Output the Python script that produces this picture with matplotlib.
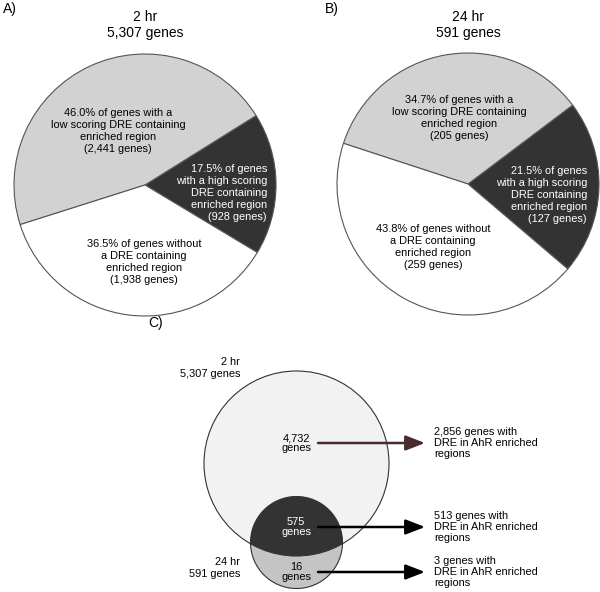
import matplotlib
matplotlib.use("Agg")
import matplotlib.pyplot as plt
from matplotlib.patches import Circle

plt.rcParams["font.family"] = ["Liberation Sans", "DejaVu Sans"]

# pie data: high scoring DRE, low scoring DRE, no DRE
pie_a_pct = [17.5, 46.0, 36.5]
pie_a_genes = ["928", "2,441", "1,938"]
pie_b_pct = [21.5, 34.7, 43.8]
pie_b_genes = ["127", "205", "259"]
pie_titles = ["2 hr\n5,307 genes", "24 hr\n591 genes"]
pie_colors = ["#333333", "#d2d2d2", "#ffffff"]

# venn data
venn_only_2hr = "4,732"
venn_both = "575"
venn_only_24hr = "16"
venn_dre = ["2,856", "513", "3"]
venn_sets = ["2 hr\n5,307 genes", "24 hr\n591 genes"]

H = 592


def Y(y):
    # pixel row -> data y (y axis goes up)
    return H - y


fig = plt.figure(figsize=(6, 5.92), dpi=100)
ax = fig.add_axes([0, 0, 1, 1])

fs = 7.9
edge = "#555555"

# ---- pies ----
pies = [
    (pie_a_pct, pie_a_genes, (145, 185), -31.0, pie_titles[0], "A)", 3),
    (pie_b_pct, pie_b_genes, (468, 184), -40.4, pie_titles[1], "B)", 325),
]
for i, (pct, genes, (cx, cy), start, title, tag, tagx) in enumerate(pies):
    ax.pie(pct, colors=pie_colors, startangle=start, counterclock=True,
           center=(cx, Y(cy)), radius=131,
           wedgeprops=dict(edgecolor=edge, linewidth=0.8))
    ax.text(cx, Y(25), title, ha="center", va="center", fontsize=10,
            linespacing=1.15)
    ax.text(tagx, Y(9), tag, ha="left", va="center", fontsize=10)

    hi = "%.1f%% of genes\nwith a high scoring\nDRE containing\nenriched region\n(%s genes)" % (pct[0], genes[0])
    lo = "%.1f%% of genes with a\nlow scoring DRE containing\nenriched region\n(%s genes)" % (pct[1], genes[1])
    no = "%.1f%% of genes without\na DRE containing\nenriched region\n(%s genes)" % (pct[2], genes[2])
    if i == 0:
        ax.text(267, Y(193), hi, ha="right", va="center", fontsize=fs,
                color="white", linespacing=1.25)
        ax.text(118, Y(131), lo, ha="center", va="center", fontsize=fs,
                linespacing=1.25)
        ax.text(144, Y(262), no, ha="center", va="center", fontsize=fs,
                linespacing=1.25)
    else:
        ax.text(587, Y(195), hi, ha="right", va="center", fontsize=fs,
                color="white", linespacing=1.25)
        ax.text(459, Y(118), lo, ha="center", va="center", fontsize=fs,
                linespacing=1.25)
        ax.text(433, Y(247), no, ha="center", va="center", fontsize=fs,
                linespacing=1.25)

# ---- venn ----
big = Circle((296.5, Y(463.5)), 92.5, facecolor="#f2f2f2", edgecolor="none")
small = Circle((296.5, Y(542.5)), 46, facecolor="#c4c4c4", edgecolor="none")
ax.add_patch(big)
ax.add_patch(small)
inter = Circle((296.5, Y(542.5)), 46, facecolor="#333333", edgecolor="none")
ax.add_patch(inter)
inter.set_clip_path(big)
ax.add_patch(Circle((296.5, Y(463.5)), 92.5, facecolor="none",
                    edgecolor="#333333", linewidth=0.8))
ax.add_patch(Circle((296.5, Y(542.5)), 46, facecolor="none",
                    edgecolor="#333333", linewidth=0.8))

ax.text(148, Y(323), "C)", ha="left", va="center", fontsize=10)
ax.text(240, Y(368), venn_sets[0], ha="right", va="center", fontsize=fs,
        linespacing=1.15)
ax.text(240, Y(568), venn_sets[1], ha="right", va="center", fontsize=fs,
        linespacing=1.15)

centers = [(venn_only_2hr, 443, "black"), (venn_both, 527, "white"),
           (venn_only_24hr, 572, "black")]
arrow_cols = ["#4a2c2c", "black", "black"]
for (n, yy, c), dre, acol in zip(centers, venn_dre, arrow_cols):
    ax.text(296, Y(yy), n + "\ngenes", ha="center", va="center",
            fontsize=fs, color=c, linespacing=0.95)
    ax.annotate("", xy=(425, Y(yy)), xytext=(318, Y(yy)),
                arrowprops=dict(arrowstyle="-|>,head_length=0.9,head_width=0.35",
                                mutation_scale=13, lw=1.8, color=acol,
                                shrinkA=0, shrinkB=0))
    ax.text(434, Y(yy), dre + " genes with\nDRE in AhR enriched\nregions",
            ha="left", va="center", fontsize=fs, linespacing=1.15)

ax.set_xlim(0, 600)
ax.set_ylim(0, H)
ax.set_aspect("equal")
ax.axis("off")

fig.savefig("out.png", dpi=100)
